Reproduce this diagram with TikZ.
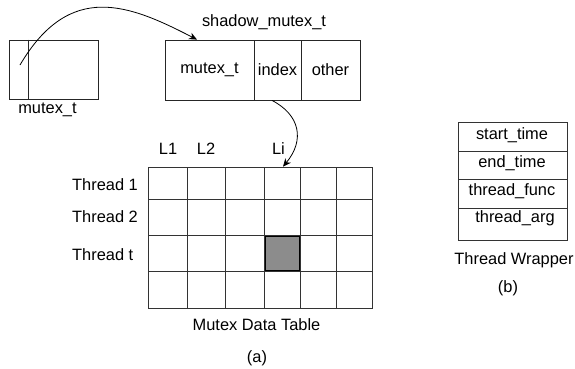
\documentclass[tikz,border=0pt]{standalone}
\usepackage{fontspec}
\setmainfont{Liberation Sans}
\usetikzlibrary{arrows.meta}
\begin{document}
\begin{tikzpicture}[x=1pt,y=-1pt,
  font=\fontsize{16.4}{19}\selectfont,
  box/.style={draw=black!85, line width=0.8pt, inner sep=0pt, minimum height=#1},
  box/.default=60pt,
  cell/.style={draw=black!80, line width=0.7pt, inner sep=0pt},
  lbl/.style={inner sep=0pt},
  link/.style={-{Stealth[length=8pt,width=7pt,inset=2.5pt]}, line width=0.8pt}]
\useasboundingbox (0,0) rectangle (575,368);

% plain mutex_t
\node[box=59pt, minimum width=89pt] (mx) at (53.5,69.5) {};
\draw[black!85, line width=0.8pt] ([xshift=20pt]mx.north west) -- ([xshift=20pt]mx.south west);
\coordinate (mxptr) at (20,65);
\node[lbl] (mxlbl) at (47.5,110) {mutex\_t};

% shadow_mutex_t record
\node[box, minimum width=89pt] (smx) at (209.5,70) {mutex\_t};
\node[box, minimum width=47pt] (sidx) at (277.5,70) {index};
\node[box, minimum width=59pt] (soth) at (330.5,70) {other};
\node[lbl] (smxlbl) at (264,22) {shadow\_mutex\_t};

% mutex data table
\def\colx{{148,187,225,264,300,336,372}}
\def\rowy{{167,199,235,271,308}}
\foreach \r in {0,...,3}{
  \foreach \c in {0,...,5}{
    \pgfmathsetmacro{\xa}{\colx[\c]}
    \pgfmathsetmacro{\xb}{\colx[\c+1]}
    \pgfmathsetmacro{\ya}{\rowy[\r]}
    \pgfmathsetmacro{\yb}{\rowy[\r+1]}
    \node[cell, minimum width=\xb pt-\xa pt, minimum height=\yb pt-\ya pt]
      (c-\r-\c) at ({(\xa+\xb)/2},{(\ya+\yb)/2}) {};
  }
}
\node[draw=black, line width=0.9pt, fill=black!45, inner sep=0pt,
  minimum width=34pt, minimum height=34pt] (hit) at (c-2-3) {};

\node[lbl] (l1) at (168,149) {L1};
\node[lbl] (l2) at (206,149) {L2};
\node[lbl] (li) at (278.5,149) {Li};
\node[lbl, anchor=west] (t1) at (72,185) {Thread 1};
\node[lbl, anchor=west] (t2) at (72,217) {Thread 2};
\node[lbl, anchor=west] (tt) at (72,255) {Thread t};
\node[lbl] (tbl) at (256.5,325) {Mutex Data Table};
\node[lbl] (capa) at (257,358) {(a)};

% thread wrapper
\node[cell, minimum width=109pt, minimum height=29pt] (w1) at (512.5,136.5) {};
\node[cell, minimum width=109pt, minimum height=28pt] (w2) at (512.5,165) {};
\node[cell, minimum width=109pt, minimum height=29pt] (w3) at (512.5,193.5) {};
\node[cell, minimum width=109pt, minimum height=32pt] (w4) at (512.5,224) {};
\node[lbl] at (512,135) {start\_time};
\node[lbl] at (512,163) {end\_time};
\node[lbl] at (512,191) {thread\_func};
\node[lbl] at (515,218) {thread\_arg};
\node[lbl] (wlbl) at (514,260) {Thread Wrapper};
\node[lbl] (capb) at (508,288) {(b)};

% pointers
\draw[link] (mxptr) .. controls (70,-20) and (130,5) .. ([xshift=-12.5pt]smx.north);
\draw[link] ([xshift=-5.5pt]sidx.south) .. controls (300,115) and (305,140) .. ([xshift=1pt]c-0-3.north);
\end{tikzpicture}
\end{document}
